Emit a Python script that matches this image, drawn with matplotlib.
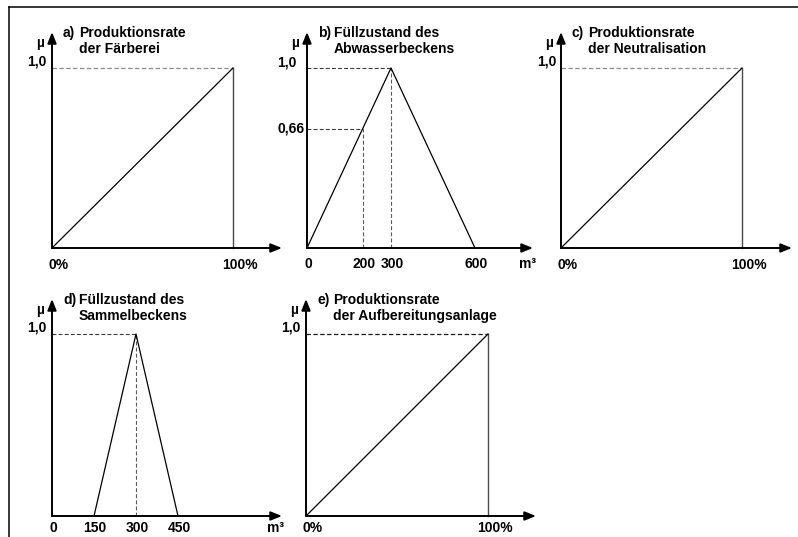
import matplotlib
matplotlib.use('Agg')
import matplotlib.pyplot as plt
from matplotlib.lines import Line2D

plt.rcParams['font.family'] = ['Liberation Sans', 'DejaVu Sans']
plt.rcParams['font.weight'] = 'bold'
plt.rcParams['font.size'] = 10

# membership functions (x in % or m³, mu in 0..1)
a_x = [0, 100]
a_mu = [0, 1.0]
b_x = [0, 300, 600]
b_mu = [0, 1.0, 0]
c_x = [0, 100]
c_mu = [0, 1.0]
d_x = [150, 300, 450]
d_mu = [0, 1.0, 0]
e_x = [0, 100]
e_mu = [0, 1.0]

# guide points (x, mu) marked with helper lines
a_guides = [(100, 1.0)]
b_guides = [(200, 0.66), (300, 1.0)]
c_guides = [(100, 1.0)]
d_guides = [(300, 1.0)]
e_guides = [(100, 1.0)]

pct_ticks = [0, 100]
pct_labels = ['0%', '100%']
b_ticks = [0, 200, 300, 600]
b_labels = ['0', '200', '300', '600']
d_ticks = [0, 150, 300, 450]
d_labels = ['0', '150', '300', '450']
b_yticks = [1.0, 0.66]
b_ylabels = ['1,0', '0,66']

tags = ['a)', 'b)', 'c)', 'd)', 'e)']
titles = ['Produktionsrate\nder Färberei',
          'Füllzustand des\nAbwasserbeckens',
          'Produktionsrate\nder Neutralisation',
          'Füllzustand des\nSammelbeckens',
          'Produktionsrate\nder Aufbereitungsanlage']

W, H = 798, 537
fig = plt.figure(figsize=(W / 100, H / 100), dpi=100)
fig.patch.set_facecolor('white')

# frame (only top and left visible in the crop)
fig.add_artist(Line2D([9 / W, 9 / W], [0, 1 - 7 / H], color='black', lw=1.1))
fig.add_artist(Line2D([9 / W, 1], [1 - 7 / H, 1 - 7 / H], color='black', lw=1.1))


def panel(geom, xs, mus, guides, xticks, xlabels, yticks, ylabels, unit,
          tag, title, linear, lab_dy, pct, hcolor='#8c8c8c'):
    ox, oy, sx, sy, tx, ty = geom
    ax = fig.add_axes([ox / W, 1 - oy / H, (tx - ox) / W, (oy - ty) / H])
    ax.set_xlim(0, (tx - ox) / sx)
    ax.set_ylim(0, (oy - ty) / sy)
    ax.axis('off')
    xmax = ax.get_xlim()[1]
    ymax = ax.get_ylim()[1]

    head = dict(arrowstyle='-|>,head_length=0.55,head_width=0.22',
                mutation_scale=12, color='black', lw=1.4,
                shrinkA=0, shrinkB=0)
    ax.annotate('', xy=(xmax, 0), xytext=(0, 0), arrowprops=head,
                annotation_clip=False)
    ax.annotate('', xy=(0, ymax), xytext=(0, 0), arrowprops=head,
                annotation_clip=False)

    for gx, gm in guides:
        if linear:
            ax.plot([0, gx], [gm, gm], color=hcolor, lw=0.9,
                    ls=(0, (3.5, 2)), clip_on=False)
            ax.plot([gx, gx], [0, gm], color='#4a4a4a', lw=1.0, clip_on=False)
        else:
            ax.plot([0, gx], [gm, gm], color='#3a3a3a', lw=0.8,
                    ls=(0, (3.5, 2)), clip_on=False)
            ax.plot([gx, gx], [0, gm], color='#5a5a5a', lw=0.8,
                    ls=(0, (3.5, 2)), clip_on=False)

    ax.plot(xs, mus, color='black', lw=0.9, clip_on=False)

    dx = 7 if pct else 1
    for xv, lab in zip(xticks, xlabels):
        ax.annotate(lab, xy=(xv, 0), xytext=(dx, -lab_dy),
                    textcoords='offset pixels', ha='center', va='center',
                    annotation_clip=False)
    for yv, lab in zip(yticks, ylabels):
        if len(yticks) > 1:
            ax.annotate(lab, xy=(0, yv), xytext=(-30, 5 if yv == 1.0 else 1),
                        textcoords='offset pixels', ha='left', va='center',
                        annotation_clip=False)
        else:
            ax.annotate(lab, xy=(0, yv), xytext=(-5, 6),
                        textcoords='offset pixels', ha='right', va='center',
                        annotation_clip=False)
    ax.annotate('µ', xy=(0, ymax), xytext=(-12, -11),
                textcoords='offset pixels', ha='center', va='center',
                annotation_clip=False)
    if unit:
        ax.annotate(unit, xy=(xmax, 0), xytext=(-6, -lab_dy),
                    textcoords='offset pixels', ha='center', va='center',
                    annotation_clip=False)

    fig.text((ox + 11) / W, 1 - (ty + 1) / H, tag, ha='left', va='center')
    fig.text((ox + 27) / W, 1 - (ty + 9) / H, title, ha='left', va='center',
             linespacing=1.15)


panel((52, 248, 1.81, 180, 282, 32), a_x, a_mu, a_guides, pct_ticks,
      pct_labels, [1.0], ['1,0'], None, tags[0], titles[0], True, 17, True)
panel((307, 248, 0.28, 180, 533, 32), b_x, b_mu, b_guides, b_ticks,
      b_labels, b_yticks, b_ylabels, 'm³', tags[1], titles[1], False, 16, False)
panel((561, 248, 1.81, 180, 792, 32), c_x, c_mu, c_guides, pct_ticks,
      pct_labels, [1.0], ['1,0'], None, tags[2], titles[2], True, 17, True)
panel((52, 516, 0.28, 182, 282, 299), d_x, d_mu, d_guides, d_ticks,
      d_labels, [1.0], ['1,0'], 'm³', tags[3], titles[3], False, 12, False)
panel((306, 516, 1.82, 182, 536, 299), e_x, e_mu, e_guides, pct_ticks,
      pct_labels, [1.0], ['1,0'], None, tags[4], titles[4], True, 12, True,
      hcolor='#1a1a1a')

fig.savefig('out.png', dpi=100, facecolor='white')
